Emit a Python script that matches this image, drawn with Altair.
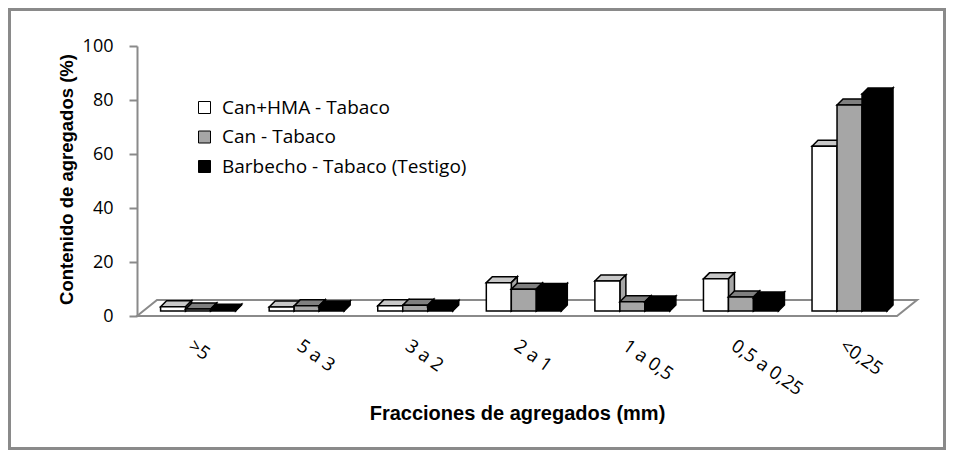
import json
import altair as alt
import pandas as pd

# ---------------- data ----------------
categories = [">5", "5 a 3", "3 a 2", "2 a 1", "1 a 0,5", "0,5 a 0,25", "<0,25"]
series = ["Can+HMA - Tabaco", "Can - Tabaco", "Barbecho - Tabaco (Testigo)"]
can_hma = [1.6, 1.5, 1.9, 10.5, 11.1, 11.9, 61.0]
can = [0.7, 1.9, 2.1, 8.1, 3.4, 5.2, 76.3]
barbecho = [0.3, 1.5, 1.7, 8.0, 3.3, 4.8, 80.4]
y_ticks = [0, 20, 40, 60, 80, 100]

# ---------------- styles ----------------
front_colors = ["#ffffff", "#a6a6a6", "#000000"]
top_colors = ["#c8c8c8", "#7f7f7f", "#000000"]
side_colors = ["#a6a6a6", "#6e6e6e", "#000000"]
LABEL_FONT = "Open Sans, Lato, sans-serif"
TITLE_FONT = "Liberation Sans, Arial, sans-serif"
GRAY = "#8a8a8a"

rows = []
for j, (name, vals) in enumerate(zip(series, [can_hma, can, barbecho])):
    for i, (c, v) in enumerate(zip(categories, vals)):
        rows.append({"cat": c, "i": i, "series": name, "j": j, "value": v})
df = pd.DataFrame(rows)
floor_df = pd.DataFrame({"n": [len(categories)]})

W, H = 760, 270
n = len(categories)
PX_X = W / n          # pixels per x unit
PX_Y = H / 100.0      # pixels per y unit
BAR_W = 25 / PX_X
LEFT = 23.6 / PX_X
BASE = 5 / PX_Y
DX = 6 / PX_X
DY = 6 / PX_Y
FDX = 20 / PX_X
FDY = 16 / PX_Y

label_expr = "[" + ",".join(json.dumps(c) for c in categories) + "][floor(datum.value)]"

x_scale = alt.Scale(domain=[0, n], nice=False, zero=False)
y_scale = alt.Scale(domain=[0, 100], nice=False)

x_axis = alt.Axis(
    values=[k + 0.5 for k in range(n)], labelExpr=label_expr, grid=False,
    domain=False, ticks=False, labelAngle=35, labelAlign="left",
    labelBaseline="top", labelPadding=20, labelOffset=4, labelFont=LABEL_FONT,
    labelFontSize=18.5, labelColor="black",
    title="Fracciones de agregados (mm)", titleFont=TITLE_FONT,
    titleFontSize=20, titleFontWeight="bold", titleColor="black",
    titleY=97, titleBaseline="middle",
)
y_axis = alt.Axis(
    values=y_ticks, grid=False, domainColor=GRAY, domainWidth=2,
    tickColor=GRAY, tickWidth=2, tickSize=8, labelPadding=16,
    labelFont=LABEL_FONT, labelFontSize=18, labelColor="black",
    title="Contenido de agregados (%)", titleFont=TITLE_FONT,
    titleFontSize=18.5, titleFontWeight="bold", titleColor="black",
    titleAngle=270, titleX=-71, titleY=H / 2 - 2, titleAlign="center",
    titleBaseline="middle",
)

# outer frame
frame = alt.Chart(floor_df).mark_rect(
    fillOpacity=0, stroke=GRAY, strokeWidth=3
).encode(
    x=alt.value(-127.5), x2=alt.value(W + 47.5),
    y=alt.value(-36.5), y2=alt.value(H + 132.5),
)

# floor parallelogram
floor = alt.Chart(floor_df).transform_calculate(
    fx=f"[0, {FDX}, datum.n, datum.n + {FDX}]",
    fy=f"[0, {FDY}, {FDY}, {FDY}]",
    fy2="[0, 0, 0, " + str(FDY) + "]",
).transform_flatten(["fx", "fy", "fy2"]).mark_area(
    fill="white", stroke=GRAY, strokeWidth=2
).encode(
    x=alt.X("fx:Q", scale=x_scale, axis=x_axis),
    y=alt.Y("fy:Q", scale=y_scale, axis=y_axis),
    y2="fy2:Q",
)

base = alt.Chart(df).transform_calculate(
    x0=f"datum.i + {LEFT} + datum.j * {BAR_W}",
).transform_calculate(
    x1=f"datum.x0 + {BAR_W}",
    b=f"{BASE}",
    t=f"{BASE} + datum.value",
)

layers = [frame, floor]
for j in range(len(series)):
    bj = base.transform_filter(f"datum.j == {j}")
    top = bj.transform_calculate(
        tx=f"[datum.x0, datum.x0 + {DX}, datum.x1, datum.x1 + {DX}]",
        ty=f"[datum.t, datum.t + {DY}, datum.t + {DY}, datum.t + {DY}]",
        ty2=f"[datum.t, datum.t, datum.t, datum.t + {DY}]",
    ).transform_flatten(["tx", "ty", "ty2"]).mark_area(
        fill=top_colors[j], stroke="black", strokeWidth=1.5
    ).encode(
        x=alt.X("tx:Q", scale=x_scale, axis=x_axis),
        y=alt.Y("ty:Q", scale=y_scale, axis=y_axis),
        y2="ty2:Q",
        detail="i:N",
    )
    side = bj.transform_calculate(
        sx=f"[datum.x1, datum.x1 + {DX}]",
        sy=f"[datum.t, datum.t + {DY}]",
        sy2=f"[datum.b, datum.b + {DY}]",
    ).transform_flatten(["sx", "sy", "sy2"]).mark_area(
        fill=side_colors[j], stroke="black", strokeWidth=1.5
    ).encode(
        x=alt.X("sx:Q", scale=x_scale, axis=x_axis),
        y=alt.Y("sy:Q", scale=y_scale, axis=y_axis),
        y2="sy2:Q",
        detail="i:N",
    )
    front = bj.mark_rect(stroke="black", strokeWidth=1.5).encode(
        x=alt.X("x0:Q", scale=x_scale, axis=x_axis),
        x2="x1:Q",
        y=alt.Y("t:Q", scale=y_scale, axis=y_axis),
        y2="b:Q",
        fill=alt.Fill(
            "series:N",
            scale=alt.Scale(domain=series, range=front_colors),
            legend=alt.Legend(
                orient="none", legendX=58, legendY=52, title=None,
                symbolType="square", symbolSize=144,
                symbolStrokeColor="black", symbolStrokeWidth=1,
                symbolOpacity=1, labelLimit=0,
                labelFont=LABEL_FONT, labelFontSize=19, labelColor="black",
                rowPadding=9.5, labelOffset=8, padding=0,
            ),
        ),
    )
    layers += [top, side, front]

chart = alt.layer(*layers).properties(
    width=W, height=H,
    autosize=alt.AutoSizeParams(type="none"),
    padding={"left": 129, "top": 38, "right": 49, "bottom": 134},
    background="white",
).configure_view(strokeWidth=0)

chart.save("out.html", embed_options={"renderer": "svg", "actions": False})
